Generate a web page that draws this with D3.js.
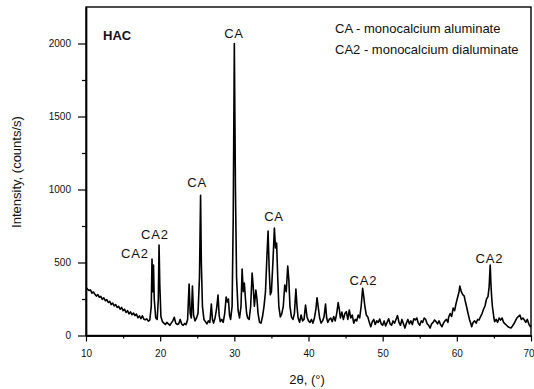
<!DOCTYPE html>
<html>
<head>
<meta charset="utf-8">
<script src="https://cdn.jsdelivr.net/npm/d3@7"></script>
<style>
  html, body { margin: 0; padding: 0; background: #fff; }
  svg { display: block; }
  text { font-family: "Liberation Sans", Arial, sans-serif; fill: #111; }
</style>
</head>
<body>
<svg id="chart" width="534" height="389"></svg>
<script>
// ---- data ----
const twoTheta = [
  10.0,10.2,10.4,10.6,10.8,11.0,11.2,11.4,11.6,11.8,12.0,12.2,12.4,12.6,12.8,13.0,13.2,13.4,13.6,13.8,
  14.0,14.2,14.4,14.6,14.8,15.0,15.2,15.4,15.6,15.8,16.0,16.2,16.4,16.6,16.8,17.0,17.2,17.4,17.6,17.8,
  18.0,18.2,18.4,18.6,18.8,18.9,19.0,19.1,19.2,19.4,19.6,19.75,19.85,19.95,20.1,20.3,20.5,20.7,20.9,21.1,
  21.3,21.5,21.7,21.9,22.1,22.3,22.5,22.7,22.9,23.1,23.3,23.5,23.7,23.9,24.05,24.2,24.35,24.5,24.7,24.9,
  25.1,25.3,25.45,25.55,25.7,25.9,26.1,26.3,26.5,26.7,26.9,27.05,27.2,27.4,27.6,27.8,27.95,28.1,28.3,28.5,
  28.7,28.9,29.05,29.2,29.35,29.5,29.7,29.85,30.0,30.15,30.3,30.5,30.7,30.9,31.05,31.2,31.35,31.5,31.65,31.8,
  32.0,32.2,32.4,32.55,32.7,32.9,33.05,33.2,33.4,33.6,33.8,34.0,34.2,34.4,34.55,34.7,34.85,35.0,35.2,35.4,
  35.55,35.7,35.85,36.0,36.2,36.4,36.6,36.8,37.0,37.2,37.35,37.5,37.7,37.9,38.1,38.3,38.45,38.6,38.8,39.0,
  39.2,39.4,39.6,39.8,40.0,40.2,40.4,40.6,40.8,41.0,41.15,41.3,41.5,41.7,41.9,42.1,42.3,42.45,42.6,42.8,
  43.0,43.2,43.4,43.6,43.8,44.0,44.15,44.3,44.5,44.7,44.9,45.1,45.3,45.5,45.7,45.9,46.1,46.3,46.5,46.7,
  46.9,47.1,47.3,47.45,47.6,47.8,48.0,48.2,48.4,48.6,48.8,49.0,49.2,49.4,49.6,49.8,50.0,50.2,50.4,50.6,
  50.8,51.0,51.2,51.4,51.6,51.8,52.0,52.2,52.4,52.6,52.8,53.0,53.2,53.4,53.6,53.8,54.0,54.2,54.4,54.6,
  54.8,55.0,55.2,55.4,55.6,55.8,56.0,56.2,56.4,56.6,56.8,57.0,57.2,57.4,57.6,57.8,58.0,58.2,58.4,58.6,
  58.8,58.9,59.1,59.3,59.5,59.7,59.9,60.1,60.3,60.4,60.6,60.8,61.0,61.1,61.3,61.5,61.7,61.9,62.0,62.2,
  62.4,62.6,62.8,63.0,63.2,63.4,63.6,63.8,64.0,64.2,64.35,64.5,64.6,64.7,64.8,65.0,65.1,65.3,65.5,65.7,
  65.9,66.1,66.3,66.5,66.7,66.9,67.1,67.3,67.5,67.7,67.9,68.1,68.3,68.5,68.7,68.9,69.1,69.3,69.5,69.7,
  69.9,70.0
];
const intensity = [
  330,318,308,312,290,298,282,270,280,262,268,248,258,238,246,226,234,212,222,202,
  212,192,200,180,192,170,180,158,170,148,162,142,154,136,146,122,134,116,135,112,
  108,114,98,106,200,524,300,483,250,120,110,250,620,350,130,95,85,75,90,80,
  70,85,100,125,85,75,80,110,78,70,82,75,110,353,150,120,339,140,100,120,
  150,400,961,500,200,110,95,80,100,90,216,110,85,120,180,277,140,95,110,90,
  150,264,230,250,140,110,200,800,2000,1000,400,175,120,200,455,300,360,250,154,120,
  110,200,428,330,200,311,250,150,90,85,130,200,300,550,716,450,280,300,500,736,
  600,633,400,200,127,150,200,346,300,476,380,200,127,110,150,318,200,120,90,140,
  100,110,209,127,100,90,110,85,120,180,259,200,120,85,100,130,216,120,90,110,
  120,95,130,100,150,225,180,120,160,110,150,163,110,175,120,140,85,110,100,140,
  120,200,323,266,200,140,127,90,60,95,110,75,100,90,113,80,70,100,65,90,
  115,80,70,100,85,110,136,90,70,110,80,51,85,110,80,100,75,115,106,120,
  85,70,100,90,120,110,80,70,51,80,90,106,95,80,100,75,60,85,100,110,
  90,127,150,130,188,170,220,260,300,339,300,280,270,243,200,154,110,80,60,90,
  100,85,110,106,130,150,180,202,250,266,330,483,350,260,197,120,95,110,90,120,
  105,120,90,80,70,60,55,51,65,80,100,120,130,140,110,120,106,90,110,80,
  60,70
];
const xTickValues = [10, 20, 30, 40, 50, 60, 70];
const xMinorTicks = [15, 25, 35, 45, 55, 65];
const yTickValues = [0, 500, 1000, 1500, 2000];
const yMinorTicks = [250, 750, 1250, 1750];
const peakLabels = ["CA", "CA", "CA2", "CA2", "CA", "CA2", "CA2"];
const peakLabelX = [29.95, 24.97, 19.3, 16.6, 35.35, 47.41, 64.4];
const peakLabelY = [2072, 1045, 695, 565, 812, 380, 531];
const legendLines = ["CA - monocalcium aluminate", "CA2 - monocalcium dialuminate"];
const sampleName = "HAC";
const xTitle = "2θ, (°)";
const yTitle = "Intensity, (counts/s)";

// ---- drawing ----
const svg = d3.select("#chart");
const x = d3.scaleLinear().domain([10, 70]).range([86, 531]);
const y = d3.scaleLinear().domain([0, 2250]).range([335.5, 7]);

// frame
svg.append("rect")
  .attr("x", x(10)).attr("y", y(2250))
  .attr("width", x(70) - x(10)).attr("height", y(0) - y(2250))
  .attr("fill", "none").attr("stroke", "#000").attr("stroke-width", 1.4);

// data line
const pts = twoTheta.map((t, i) => [t, intensity[i]]);
const line = d3.line().x(d => x(d[0])).y(d => y(d[1]));
svg.append("path")
  .datum(pts)
  .attr("d", line)
  .attr("fill", "none")
  .attr("stroke", "#000")
  .attr("stroke-width", 1.6)
  .attr("stroke-linejoin", "round");

// axes
function styleAxis(g) {
  g.select(".domain").attr("stroke", "#000").attr("stroke-width", 1.4);
  g.selectAll(".tick line").attr("stroke", "#000").attr("stroke-width", 1.2);
  g.selectAll(".tick text").attr("fill", "#222")
    .style("font-family", '"Liberation Sans", Arial, sans-serif').style("font-size", "10px");
}
const xAxisG = svg.append("g").attr("transform", `translate(0,${y(0)})`)
  .call(d3.axisBottom(x).tickValues(xTickValues).tickFormat(d3.format("d"))
    .tickSize(6).tickPadding(8).tickSizeOuter(0))
  .call(styleAxis);
// last label sits at the right edge of the window: keep it inside
xAxisG.selectAll(".tick text").filter(d => d === 70)
  .attr("text-anchor", "end").attr("dx", "3");
svg.append("g").attr("transform", `translate(0,${y(0)})`)
  .call(d3.axisBottom(x).tickValues(xMinorTicks).tickSize(3).tickFormat("").tickSizeOuter(0))
  .call(styleAxis);
svg.append("g").attr("transform", `translate(${x(10)},0)`)
  .call(d3.axisLeft(y).tickValues(yTickValues).tickFormat(d3.format("d"))
    .tickSize(8).tickPadding(7).tickSizeOuter(0))
  .call(styleAxis);
svg.append("g").attr("transform", `translate(${x(10)},0)`)
  .call(d3.axisLeft(y).tickValues(yMinorTicks).tickSize(4).tickFormat("").tickSizeOuter(0))
  .call(styleAxis);

// axis titles
svg.append("text")
  .attr("x", 307).attr("y", 384)
  .attr("text-anchor", "middle")
  .style("font-size", "13px")
  .text(xTitle);
svg.append("text")
  .attr("transform", "translate(21,172) rotate(-90)")
  .attr("text-anchor", "middle")
  .style("font-size", "13px")
  .text(yTitle);

// sample name
svg.append("text")
  .attr("x", 103).attr("y", 40)
  .style("font-size", "13px").style("font-weight", "bold")
  .text(sampleName);

// legend text
svg.selectAll("text.legend")
  .data(legendLines).enter().append("text")
  .attr("class", "legend")
  .attr("x", 335)
  .attr("y", (d, i) => 33 + i * 21)
  .style("font-size", "13px")
  .text(d => d);

// peak labels
svg.selectAll("text.peak")
  .data(peakLabels).enter().append("text")
  .attr("class", "peak")
  .attr("x", (d, i) => x(peakLabelX[i]))
  .attr("y", (d, i) => y(peakLabelY[i]))
  .attr("dy", "0.35em")
  .attr("text-anchor", "middle")
  .style("font-size", "13px")
  .style("letter-spacing", "0.8px")
  .text(d => d);
</script>
</body>
</html>
